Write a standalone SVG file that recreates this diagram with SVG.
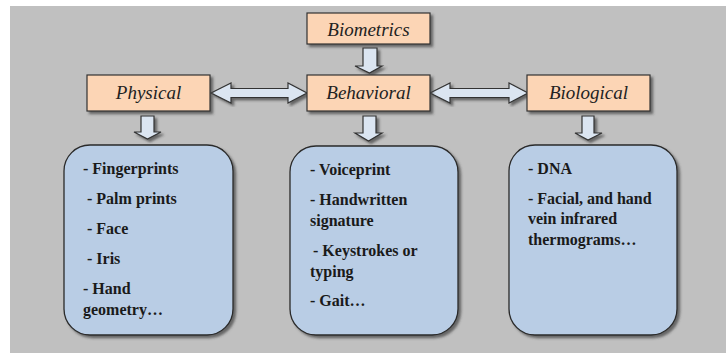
<svg xmlns="http://www.w3.org/2000/svg" width="726" height="353" viewBox="0 0 726 353">
<defs>
<filter id="sh" x="-10%" y="-10%" width="130%" height="130%">
<feDropShadow dx="2.5" dy="2.5" stdDeviation="1.2" flood-color="#404040" flood-opacity="0.7"/>
</filter>
</defs>
<style>
.hd{fill:#fcd5b5;stroke:#333;stroke-width:1.2;filter:url(#sh)}
.ht{font-family:"Liberation Serif",serif;font-style:italic;font-size:19px;fill:#222;text-anchor:middle}
.lb{fill:#b9cde5;stroke:#2a2a2a;stroke-width:1.3;filter:url(#sh)}
.lt{font-family:"Liberation Serif",serif;font-weight:bold;font-size:16px;fill:#1a1a1a}
.ar{fill:#dbe5f1;stroke:#333;stroke-width:1.2;filter:url(#sh)}
</style>
<rect x="10" y="6" width="716" height="347" fill="#c0c0c0"/>
<g id="connectors">
<polygon class="ar" points="363,48 377,48 377,66 382,66 369.5,73 355,66 363,66"/>
<polygon class="ar" points="141,116 154,116 154,132 161,132 147.5,139 134,132 141,132"/>
<polygon class="ar" points="363,116 376,116 376,133 382,133 368.5,141 355,133 363,133"/>
<polygon class="ar" points="582,116 594,116 594,133 602,133 588,140 575,133 582,133"/>
<polygon class="ar" points="211,93 231,83 231,88.5 288,88.5 288,83 307,93 288,103 288,97.5 231,97.5 231,103"/>
<polygon class="ar" points="430,93 450,83 450,88.5 509,88.5 509,83 528,93 509,103 509,97.5 450,97.5 450,103"/>
</g>
<g id="biometrics">
<rect class="hd" x="307" y="13" width="123" height="31"/>
<text class="ht" x="368.5" y="36">Biometrics</text>
</g>
<g id="physical">
<rect class="hd" x="87" y="75" width="123" height="36"/>
<text class="ht" x="148.5" y="99">Physical</text>
</g>
<g id="behavioral">
<rect class="hd" x="307" y="75" width="123" height="36"/>
<text class="ht" x="368.5" y="99">Behavioral</text>
</g>
<g id="biological">
<rect class="hd" x="527" y="75" width="123" height="36"/>
<text class="ht" x="588.5" y="99">Biological</text>
</g>
<g id="physical-list">
<rect class="lb" x="64" y="145" width="169" height="190" rx="26" ry="26"/>
<text class="lt" x="83" y="174">- Fingerprints</text>
<text class="lt" x="87" y="204">- Palm prints</text>
<text class="lt" x="87" y="234">- Face</text>
<text class="lt" x="87" y="264">- Iris</text>
<text class="lt" x="83" y="294">- Hand</text>
<text class="lt" x="83" y="315">geometry…</text>
</g>
<g id="behavioral-list">
<rect class="lb" x="290" y="146" width="168" height="189" rx="26" ry="26"/>
<text class="lt" x="310" y="175">- Voiceprint</text>
<text class="lt" x="310" y="205">- Handwritten</text>
<text class="lt" x="310" y="226">signature</text>
<text class="lt" x="313" y="256">- Keystrokes or</text>
<text class="lt" x="310" y="277">typing</text>
<text class="lt" x="310" y="306">- Gait…</text>
</g>
<g id="biological-list">
<rect class="lb" x="509" y="145" width="168" height="190" rx="26" ry="26"/>
<text class="lt" x="528" y="174">- DNA</text>
<text class="lt" x="528" y="204">- Facial, and hand</text>
<text class="lt" x="528" y="224">vein infrared</text>
<text class="lt" x="528" y="245">thermograms…</text>
</g>
</svg>
